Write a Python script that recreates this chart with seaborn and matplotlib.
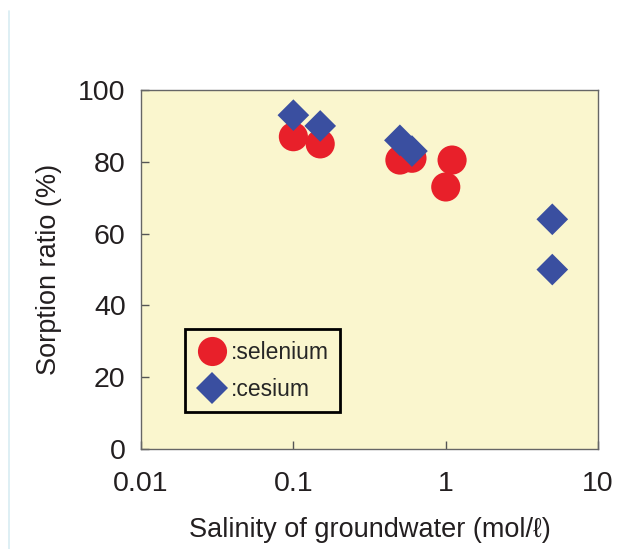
"""Sorption ratio of selenium and cesium against groundwater salinity."""
import pandas as pd
import matplotlib
matplotlib.use("Agg")
import matplotlib.pyplot as plt
import seaborn as sns
from matplotlib.lines import Line2D

# Values.
selenium_salinity = [0.1, 0.15, 0.5, 0.6, 1.1, 1.0]
selenium_sorption = [87, 85, 80.5, 81, 80.5, 73]
cesium_salinity = [0.1, 0.15, 0.5, 0.6, 5.0, 5.0]
cesium_sorption = [93, 90, 86, 83, 64, 50]

x_ticks = [0.01, 0.1, 1, 10]
x_tick_labels = ["0.01", "0.1", "1", "10"]
y_ticks = [0, 20, 40, 60, 80, 100]

sns.set_style("ticks")
plt.rcParams["font.family"] = ["Liberation Sans", "DejaVu Sans"]

# Long form table, selenium first so the diamonds sit on top.
df = pd.concat(
    [
        pd.DataFrame({"salinity": selenium_salinity,
                      "sorption": selenium_sorption,
                      "element": "selenium"}),
        pd.DataFrame({"salinity": cesium_salinity,
                      "sorption": cesium_sorption,
                      "element": "cesium"}),
    ],
    ignore_index=True,
)

fig = plt.figure(figsize=(6.35, 5.49), dpi=100)
ax = fig.add_axes([0.222, 0.182, 0.720, 0.654])
ax.set_facecolor("#faf6ce")

sns.scatterplot(
    data=df,
    x="salinity",
    y="sorption",
    hue="element",
    style="element",
    size="element",
    palette={"selenium": "#e8202a", "cesium": "#3a4fa0"},
    markers={"selenium": "o", "cesium": "D"},
    sizes={"selenium": 440, "cesium": 260},
    linewidth=0,
    ax=ax,
)

# Axes scales and ticks.
ax.set_xscale("log")
ax.set_xlim(0.01, 10)
ax.set_ylim(0, 100)
ax.set_xticks(x_ticks)
ax.set_xticklabels(x_tick_labels)
ax.xaxis.set_minor_locator(matplotlib.ticker.NullLocator())
ax.set_yticks(y_ticks)
ax.tick_params(direction="in", length=6, width=1, color="#555555",
               labelsize=20.5, labelcolor="#231f20")
ax.tick_params(axis="x", pad=16)
ax.tick_params(axis="y", pad=11)

for spine in ax.spines.values():
    spine.set_color("#666666")
    spine.set_linewidth(1)

ax.set_xlabel("Salinity of groundwater (mol/ℓ)", fontsize=19.5,
              color="#231f20", labelpad=14)
ax.set_ylabel("Sorption ratio (%)", fontsize=19.5, color="#231f20",
              labelpad=12)

# Legend with a colon before each name.
handles, labels = ax.get_legend_handles_labels()
leg = ax.legend(
    handles,
    [":" + lab for lab in labels],
    loc="lower left",
    bbox_to_anchor=(0.096, 0.103),
    borderaxespad=0,
    frameon=True,
    fancybox=False,
    fontsize=16.5,
    handletextpad=0.15,
    handlelength=1.35,
    labelspacing=0.6,
    borderpad=0.5,
)
leg.get_frame().set_edgecolor("black")
leg.get_frame().set_linewidth(2)
leg.get_frame().set_facecolor("#faf6ce")
leg.get_frame().set_alpha(1)

# Thin light blue rule at the left edge of the picture.
fig.add_artist(Line2D([0.014, 0.014], [0.0, 0.98], color="#d8ecf2",
                      linewidth=1.2, transform=fig.transFigure))

fig.savefig("out.png", dpi=100)
